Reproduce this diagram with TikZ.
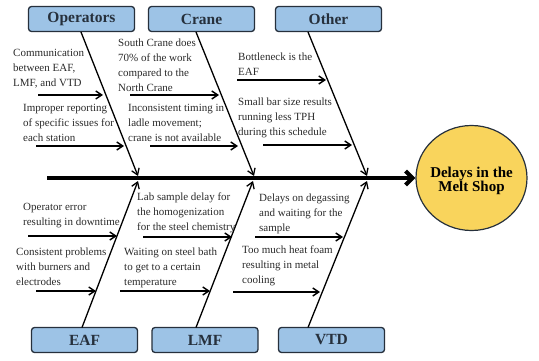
\documentclass[tikz,border=0pt]{standalone}
\usepackage{fontspec}
\setmainfont{LiberationSerif}[Extension=.ttf, UprightFont=*-Regular, BoldFont=*-Bold, ItalicFont=*-Italic, BoldItalicFont=*-BoldItalic]
\usetikzlibrary{arrows.meta,shapes.geometric}
\definecolor{boxblue}{HTML}{9DC3E6}
\definecolor{boxline}{HTML}{26303C}
\definecolor{circfill}{HTML}{F9D45C}
\definecolor{txt}{HTML}{2A2A2A}
\begin{document}
\begin{tikzpicture}[x=1pt,y=-1pt,
  cat/.style={draw=boxline, line width=1.3pt, fill=boxblue, rounded corners=3pt,
    minimum width=106pt, minimum height=25pt, inner sep=0pt, text=boxline,
    font=\fontsize{15.5}{18}\selectfont\bfseries},
  cause/.style={anchor=north west, align=left, inner sep=0pt, text=txt,
    font=\fontsize{11}{15}\selectfont},
  bone/.style={line width=1.3pt, -{Straight Barb[length=6pt,width=8pt]}},
  subarrow/.style={line width=1.4pt, -{Straight Barb[length=6pt,width=8pt]}},
  spinestyle/.style={line width=4pt, -{Straight Barb[length=7pt,width=14pt]}}]
\useasboundingbox (0,0) rectangle (539,361);

% category boxes
\node[cat] (op)  at (81.5,19) {Operators};
\node[cat] (cr)  at (201.5,19) {Crane};
\node[cat] (ot)  at (328.5,19) {Other};
\node[cat] (eaf) at (84.5,340) {EAF};
\node[cat] (lmf) at (205,340) {LMF};
\node[cat] (vtd) at (331.5,340) {VTD};

% effect
\node[ellipse, draw=boxline, line width=1.2pt, fill=circfill, minimum width=111pt,
  minimum height=105pt, inner sep=0pt] (eff) at (471.5,178) {};
\node[align=center, inner sep=0pt, text=black,
  font=\fontsize{15}{14}\selectfont\bfseries] (efft) at (471.5,181) {Delays in the\\Melt Shop};

% spine
\coordinate (spL) at (47,178);
\draw[spinestyle] (spL) -- (eff.west);

% bone end points
\coordinate (opS) at (81,32);   \coordinate (opE) at (138,176);
\coordinate (crS) at (196,32);  \coordinate (crE) at (254,176);
\coordinate (otS) at (308,32);  \coordinate (otE) at (367,176);
\coordinate (eafS) at (82,327.5);  \coordinate (eafE) at (138,181);
\coordinate (lmfS) at (196,327.5); \coordinate (lmfE) at (253,181);
\coordinate (vtdS) at (308,327.5); \coordinate (vtdE) at (367,181);

\draw[bone] (opS) -- (opE);
\draw[bone] (crS) -- (crE);
\draw[bone] (otS) -- (otE);
\draw[bone] (eafS) -- (eafE);
\draw[bone] (lmfS) -- (lmfE);
\draw[bone] (vtdS) -- (vtdE);

% cause texts
\node[cause] (op1) at (13,49) {Communication\\between EAF,\\LMF, and VTD};
\node[cause] (op2) at (23,104) {Improper reporting\\of specific issues for\\each station};
\node[cause] (cr1) at (118,39) {South Crane does\\70\% of the work\\compared to the\\North Crane};
\node[cause] (cr2) at (128,104) {Inconsistent timing in\\ladle movement;\\crane is not available};
\node[cause] (ot1) at (238,53) {Bottleneck is the\\EAF};
\node[cause] (ot2) at (238,98) {Small bar size results\\running less TPH\\during this schedule};
\node[cause] (e1) at (23,203) {Operator error\\resulting in downtime};
\node[cause] (e2) at (16,248) {Consistent problems\\with burners and\\electrodes};
\node[cause] (l1) at (137,193) {Lab sample delay for\\the homogenization\\for the steel chemistry};
\node[cause] (l2) at (124,248) {Waiting on steel bath\\to get to a certain\\temperature};
\node[cause] (v1) at (259,194) {Delays on degassing\\and waiting for the\\sample};
\node[cause] (v2) at (242,246) {Too much heat foam\\resulting in metal\\cooling};

% cause arrows
\coordinate (a1s) at (38,95);   \coordinate (a1e) at (103,95);
\coordinate (a2s) at (36,146);  \coordinate (a2e) at (124,146);
\coordinate (b1s) at (130,95);  \coordinate (b1e) at (219,95);
\coordinate (b2s) at (150,146); \coordinate (b2e) at (238,146);
\coordinate (c1s) at (237,80);  \coordinate (c1e) at (326,80);
\coordinate (c2s) at (263,145); \coordinate (c2e) at (352,145);
\coordinate (d1s) at (28,236);  \coordinate (d1e) at (117,236);
\coordinate (d2s) at (36,291);  \coordinate (d2e) at (96,291);
\coordinate (f1s) at (143,237); \coordinate (f1e) at (232,237);
\coordinate (f2s) at (120,291); \coordinate (f2e) at (210,291);
\coordinate (g1s) at (255,237); \coordinate (g1e) at (343,237);
\coordinate (g2s) at (233,292); \coordinate (g2e) at (320,292);

\foreach \p in {a1,a2,b1,b2,c1,c2,d1,d2,f1,f2,g1,g2}
  \draw[subarrow] (\p s) -- (\p e);
\end{tikzpicture}
\end{document}
